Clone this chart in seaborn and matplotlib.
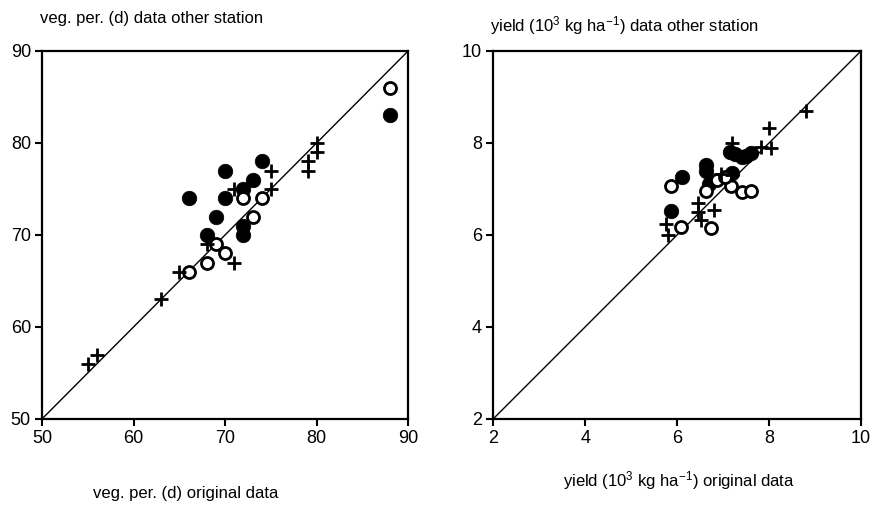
import numpy as np
import pandas as pd
import matplotlib
matplotlib.use("Agg")
import matplotlib.pyplot as plt
import seaborn as sns

# Vegetation period (days): original data vs. data from other station
veg_filled_x = [66, 70, 69, 68, 73, 72, 74, 72, 72, 88, 70]
veg_filled_y = [74, 77, 72, 70, 76, 75, 78, 71, 70, 83, 74]
veg_open_x = [66, 68, 69, 70, 72, 73, 74, 88]
veg_open_y = [66, 67, 69, 68, 74, 72, 74, 86]
veg_plus_x = [55, 56, 63, 65, 68, 71, 71, 75, 75, 79, 79, 80, 80]
veg_plus_y = [56, 57, 63, 66, 69, 75, 67, 77, 75, 78, 77, 80, 79]

# Yield (10^3 kg/ha): original data vs. data from other station
yld_filled_x = [6.10, 5.87, 6.62, 6.62, 6.70, 7.20, 7.15, 7.25, 7.40, 7.60, 7.50]
yld_filled_y = [7.25, 6.53, 7.52, 7.38, 7.10, 7.35, 7.80, 7.75, 7.70, 7.78, 7.72]
yld_open_x = [5.87, 6.09, 6.62, 6.87, 7.18, 7.42, 7.61, 6.73, 7.05]
yld_open_y = [7.07, 6.17, 6.96, 7.20, 7.07, 6.94, 6.96, 6.15, 7.25]
yld_plus_x = [5.75, 5.80, 6.45, 6.45, 6.80, 6.51, 6.95, 7.20, 7.82, 8.05, 8.00, 8.80, 7.20]
yld_plus_y = [6.24, 6.00, 6.69, 6.50, 6.54, 6.33, 7.33, 7.99, 7.92, 7.88, 8.33, 8.70, 7.30]

veg_ticks = [50, 60, 70, 80, 90]
yld_ticks = [2, 4, 6, 8, 10]

sns.set_theme(style="white")
plt.rcParams["font.family"] = ["Liberation Sans", "DejaVu Sans"]
plt.rcParams["text.color"] = "black"
plt.rcParams["mathtext.fontset"] = "custom"
plt.rcParams["mathtext.rm"] = "Liberation Sans"
plt.rcParams["mathtext.it"] = "Liberation Sans"

fig = plt.figure(figsize=(8.76, 5.09), dpi=100)
ax1 = fig.add_axes([0.048, 0.177, 0.418, 0.723])
ax2 = fig.add_axes([0.563, 0.177, 0.420, 0.723])


def draw_panel(ax, fx, fy, ox, oy, px, py, ticks):
    filled = pd.DataFrame({"x": fx, "y": fy})
    hollow = pd.DataFrame({"x": ox, "y": oy})
    plus = pd.DataFrame({"x": px, "y": py})
    ax.axline((ticks[0], ticks[0]), slope=1, color="black", lw=1.0, zorder=1)
    sns.scatterplot(data=filled, x="x", y="y", ax=ax, marker="o", s=110,
                    color="black", edgecolor="black", linewidth=0.5, zorder=3)
    sns.scatterplot(data=hollow, x="x", y="y", ax=ax, marker="o", s=75,
                    facecolor="white", edgecolor="black", linewidth=2.0, zorder=3)
    sns.scatterplot(data=plus, x="x", y="y", ax=ax, marker="+", s=95,
                    color="black", linewidth=2.0, zorder=3)
    ax.set_xlim(ticks[0], ticks[-1])
    ax.set_ylim(ticks[0], ticks[-1])
    ax.set_xticks(ticks)
    ax.set_yticks(ticks)
    ax.set_xlabel("")
    ax.set_ylabel("")
    for sp in ax.spines.values():
        sp.set_visible(True)
        sp.set_color("black")
        sp.set_linewidth(1.6)
    ax.tick_params(axis="both", which="major", direction="out", length=5,
                   width=1.5, color="black", labelsize=13, labelcolor="black",
                   bottom=True, left=True, pad=3)
    ax.grid(False)


draw_panel(ax1, veg_filled_x, veg_filled_y, veg_open_x, veg_open_y,
           veg_plus_x, veg_plus_y, veg_ticks)
draw_panel(ax2, yld_filled_x, yld_filled_y, yld_open_x, yld_open_y,
           yld_plus_x, yld_plus_y, yld_ticks)

fig.text(0.046, 0.963, "veg. per. (d) data other station", fontsize=12,
         ha="left", va="center", color="black")
fig.text(0.559, 0.950, "yield (10$^3$ kg ha$^{-1}$) data other station",
         fontsize=12, ha="left", va="center", color="black")
fig.text(0.212, 0.030, "veg. per. (d) original data", fontsize=12,
         ha="center", va="center", color="black")
fig.text(0.775, 0.055, "yield (10$^3$ kg ha$^{-1}$) original data",
         fontsize=12, ha="center", va="center", color="black")

fig.savefig("out.png", dpi=100)
